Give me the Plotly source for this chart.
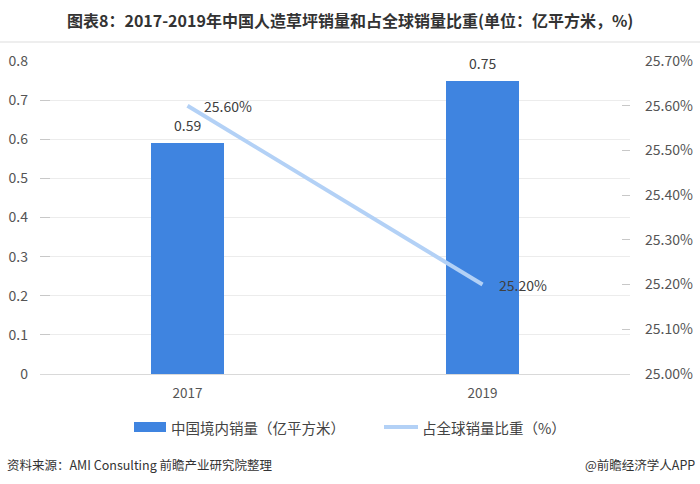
import plotly.graph_objects as go

years = ["2017", "2019"]
sales = [0.59, 0.75]
share = [25.60, 25.20]
sales_labels = ["0.59", "0.75"]
share_labels = ["25.60%", "25.20%"]
left_ticks = [0, 0.1, 0.2, 0.3, 0.4, 0.5, 0.6, 0.7, 0.8]
right_ticks = [25.0, 25.1, 25.2, 25.3, 25.4, 25.5, 25.6, 25.7]

BAR = "#3f84e0"
LINE = "#b3d1f6"
FONT = "Noto Sans CJK SC"

W, H = 700, 484
L, R, T, B = 40, 630, 61, 374


def px(x):
    return (x - L) / (R - L)


def py(y):
    return (B - y) / (B - T)


fig = go.Figure()
fig.add_trace(go.Bar(
    x=years, y=sales, width=0.245, marker=dict(color=BAR, line=dict(width=0)),
    name="中国境内销量（亿平方米）", yaxis="y", showlegend=False,
))
fig.add_trace(go.Scatter(
    x=years, y=share, mode="lines", line=dict(color=LINE, width=4),
    name="占全球销量比重（%）", yaxis="y2", showlegend=False, cliponaxis=False,
))

fig.update_layout(
    width=W, height=H,
    margin=dict(l=L, r=W - R, t=T, b=H - B, autoexpand=False),
    plot_bgcolor="white", paper_bgcolor="white",
    font=dict(family=FONT, color="#555555", size=14),
    bargap=0,
    xaxis=dict(
        type="category", range=[-0.5, 1.5], showline=True, linecolor="#d9d9d9", linewidth=1,
        ticks="", showgrid=False, tickfont=dict(size=13.5, color="#555555"),
        ticklabelstandoff=7, automargin=False,
    ),
    yaxis=dict(
        range=[0, 0.8], tickvals=left_ticks, ticktext=[("%g" % v) for v in left_ticks],
        showgrid=True, gridcolor="#ececec", gridwidth=1, zeroline=False,
        ticks="inside", ticklen=10, tickcolor="#c8c8c8", showline=False,
        tickfont=dict(size=14, color="#555555"), ticklabelstandoff=11, automargin=False,
    ),
    yaxis2=dict(
        range=[25.0, 25.7], overlaying="y", side="right",
        tickvals=right_ticks, ticktext=["%.2f%%" % v for v in right_ticks],
        showgrid=False, zeroline=False, ticks="inside", ticklen=8,
        tickcolor="#c8c8c8", showline=False,
        tickfont=dict(size=14, color="#555555"), ticklabelstandoff=14, automargin=False,
    ),
)

shapes = [
    dict(type="line", xref="paper", yref="paper", x0=px(0), x1=px(700),
         y0=py(42), y1=py(42), line=dict(color="#dddddd", width=1)),
    dict(type="rect", xref="paper", yref="paper", x0=px(134), x1=px(166),
         y0=py(432), y1=py(422), fillcolor=BAR, line=dict(width=0)),
    dict(type="line", xref="paper", yref="paper", x0=px(384), x1=px(418),
         y0=py(427), y1=py(427), line=dict(color=LINE, width=4)),
]
fig.update_layout(shapes=shapes)

ann = [
    dict(text="<b>图表8：2017-2019年中国人造草坪销量和占全球销量比重(单位：亿平方米，%)</b>",
         x=px(350), y=py(20), xanchor="center", yanchor="middle",
         font=dict(size=16, color="#333333", family=FONT)),
    dict(text="中国境内销量（亿平方米）", x=px(169), y=py(427), xanchor="left", yanchor="middle",
         font=dict(size=14.5, color="#444444", family=FONT)),
    dict(text="占全球销量比重（%）", x=px(420), y=py(427), xanchor="left", yanchor="middle",
         font=dict(size=14.5, color="#444444", family=FONT)),
    dict(text="资料来源：AMI Consulting 前瞻产业研究院整理", x=px(5), y=py(464),
         xanchor="left", yanchor="middle", font=dict(size=12.5, color="#333333", family=FONT)),
    dict(text="@前瞻经济学人APP", x=px(697), y=py(464),
         xanchor="right", yanchor="middle", font=dict(size=12.5, color="#333333", family=FONT)),
]
for a in ann:
    a.update(xref="paper", yref="paper", showarrow=False)

for i, (v, lab) in enumerate(zip(sales, sales_labels)):
    ann.append(dict(text=lab, x=i, y=v, xref="x", yref="y", showarrow=False,
                    xanchor="center", yanchor="bottom", yshift=6,
                    font=dict(size=14, color="#404040", family=FONT)))
for i, (v, lab) in enumerate(zip(share, share_labels)):
    ann.append(dict(text=lab, x=i, y=v, xref="x", yref="y2", showarrow=False,
                    xanchor="left", yanchor="middle", xshift=14,
                    font=dict(size=14, color="#404040", family=FONT)))
fig.update_layout(annotations=ann)

fig.write_html("out.html")
